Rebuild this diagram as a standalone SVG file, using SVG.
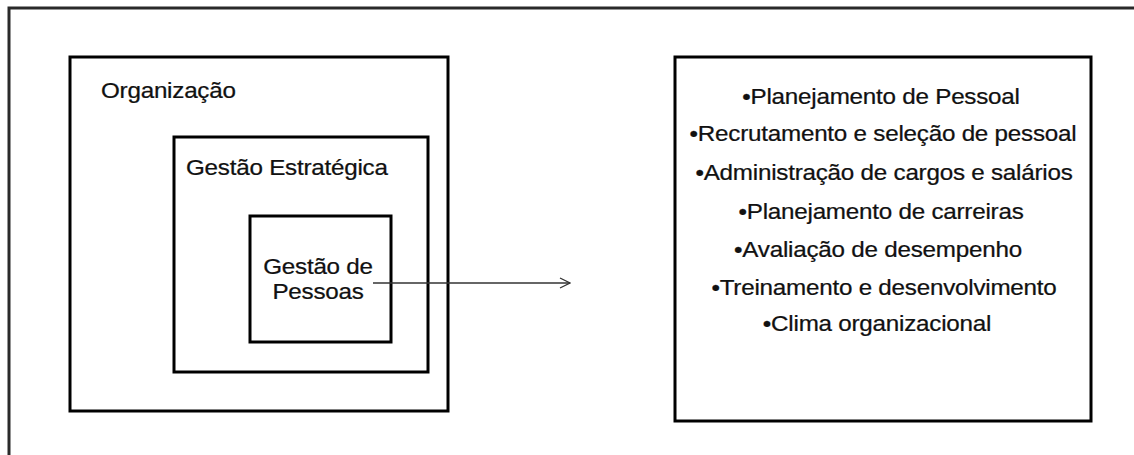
<svg xmlns="http://www.w3.org/2000/svg" width="1134" height="455" viewBox="0 0 1134 455">
<defs>
<style>
.box{fill:none;stroke:#000;stroke-width:3}
.t{font-family:"Liberation Sans",Arial,sans-serif;font-size:22px;letter-spacing:-0.2px;fill:#111;stroke:#111;stroke-width:0.25}
.c{text-anchor:middle}
.conn{stroke:#333;stroke-width:1.3;fill:none}
</style>
<marker id="arr" viewBox="0 0 12 12" refX="11" refY="6" markerWidth="12" markerHeight="12" markerUnits="userSpaceOnUse" orient="auto">
<path d="M1,1 L11,6 L1,11" fill="none" stroke="#333" stroke-width="1.3"/>
</marker>
</defs>
<rect width="1134" height="455" fill="#fff"/>
<rect x="9" y="8" width="1140" height="460" fill="none" stroke="#2a2a2a" stroke-width="3"/>
<g id="organizacao">
<rect class="box" x="70" y="57" width="378" height="354"/>
<text class="t" transform="translate(101,98) scale(1.1,1)">Organização</text>
</g>
<g id="gestao-estrategica">
<rect class="box" x="174" y="137" width="254" height="235"/>
<text class="t" transform="translate(186,175) scale(1.1,1)">Gestão Estratégica</text>
</g>
<g id="gestao-pessoas">
<rect class="box" x="250" y="216" width="141" height="126"/>
<text class="t c" transform="translate(318,274) scale(1.1,1)">Gestão de</text>
<text class="t c" transform="translate(318,299) scale(1.1,1)">Pessoas</text>
</g>
<g id="lista">
<rect class="box" x="675" y="57" width="416" height="364"/>
<text class="t c" transform="translate(881,104) scale(1.1,1)">•Planejamento de Pessoal</text>
<text class="t c" transform="translate(883,141) scale(1.1,1)">•Recrutamento e seleção de pessoal</text>
<text class="t c" transform="translate(884,180) scale(1.1,1)">•Administração de cargos e salários</text>
<text class="t c" transform="translate(881,219) scale(1.1,1)">•Planejamento de carreiras</text>
<text class="t c" transform="translate(878,257) scale(1.1,1)">•Avaliação de desempenho</text>
<text class="t c" transform="translate(884,295) scale(1.1,1)">•Treinamento e desenvolvimento</text>
<text class="t c" transform="translate(877,331) scale(1.1,1)">•Clima organizacional</text>
</g>
<g id="connectors">
<line class="conn" x1="373" y1="283" x2="570" y2="283" marker-end="url(#arr)"/>
</g>
</svg>
